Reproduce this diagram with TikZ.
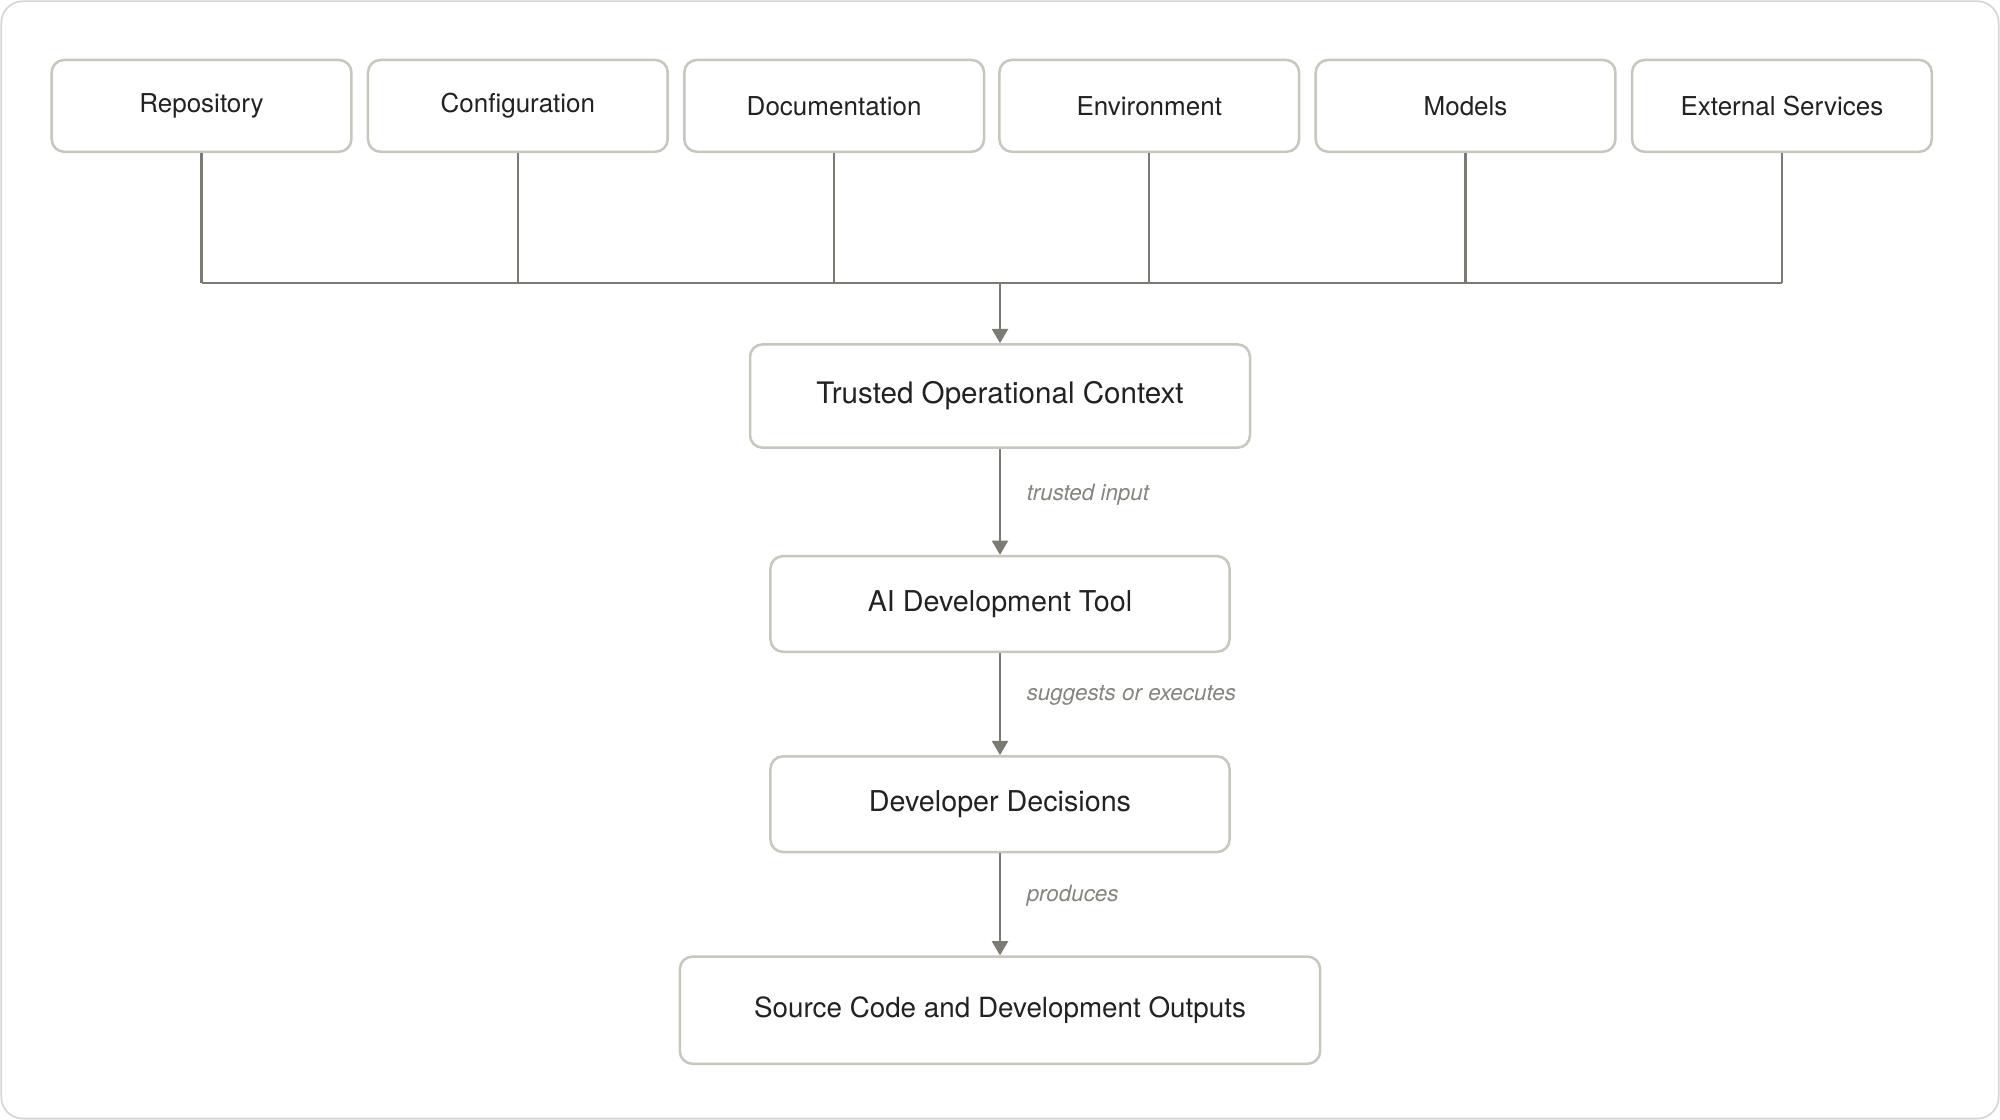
\documentclass[tikz,border=0pt]{standalone}
\usepackage{fontspec}
\setmainfont{TeX Gyre Heros}
\usetikzlibrary{arrows.meta}
\definecolor{boxline}{HTML}{C9C6BD}
\definecolor{conn}{HTML}{7B7B73}
\definecolor{txt}{HTML}{222222}
\definecolor{lab}{HTML}{85857E}
\begin{document}
\begin{tikzpicture}[x=0.025cm,y=-0.025cm,
  box/.style={draw=boxline,line width=1.4pt,rounded corners=7pt,fill=white,text=txt,inner sep=0pt},
  wire/.style={draw=conn,line width=1.3pt},
  arr/.style={wire,-{Triangle[length=8pt,width=9pt]}},
  lbl/.style={text=lab,font=\itshape\fontsize{12.5}{15}\selectfont,anchor=west}]
\useasboundingbox (0,0) rectangle (1568,878);
\draw[draw=boxline!70,line width=1pt,rounded corners=12pt] (1,1) rectangle (1567,877);
\foreach \n/\x/\t in {r/158/Repository,c/406/Configuration,d/654/Documentation,e/901/Environment,m/1149/Models,x/1397/External Services}{
  \node[box,minimum width=235*0.025cm,minimum height=72*0.025cm,font=\fontsize{14.5}{17}\selectfont] (\n) at (\x,83) {\t};
  \draw[wire] (\n.south) -- (\x,222);
}
\draw[wire] (158,222) -- (1397,222);
\coordinate (bus) at (784,222);
\node[box,minimum width=392*0.025cm,minimum height=81*0.025cm,font=\fontsize{16.5}{19}\selectfont] (t) at (784,310.5) {Trusted Operational Context};
\node[box,minimum width=360*0.025cm,minimum height=75*0.025cm,font=\fontsize{16}{19}\selectfont] (a) at (784,473.5) {AI Development Tool};
\node[box,minimum width=360*0.025cm,minimum height=75*0.025cm,font=\fontsize{16}{19}\selectfont] (dd) at (784,630.5) {Developer Decisions};
\node[box,minimum width=502*0.025cm,minimum height=84*0.025cm,font=\fontsize{15.5}{19}\selectfont] (s) at (784,792) {Source Code and Development Outputs};
\draw[arr] (bus) -- (t.north);
\draw[arr] (t.south) -- (a.north);
\draw[arr] (a.south) -- (dd.north);
\draw[arr] (dd.south) -- (s.north);
\node[lbl] (l1) at (800,388) {trusted input};
\node[lbl] (l2) at (800,545) {suggests or executes};
\node[lbl] (l3) at (800,702) {produces};
\end{tikzpicture}
\end{document}
